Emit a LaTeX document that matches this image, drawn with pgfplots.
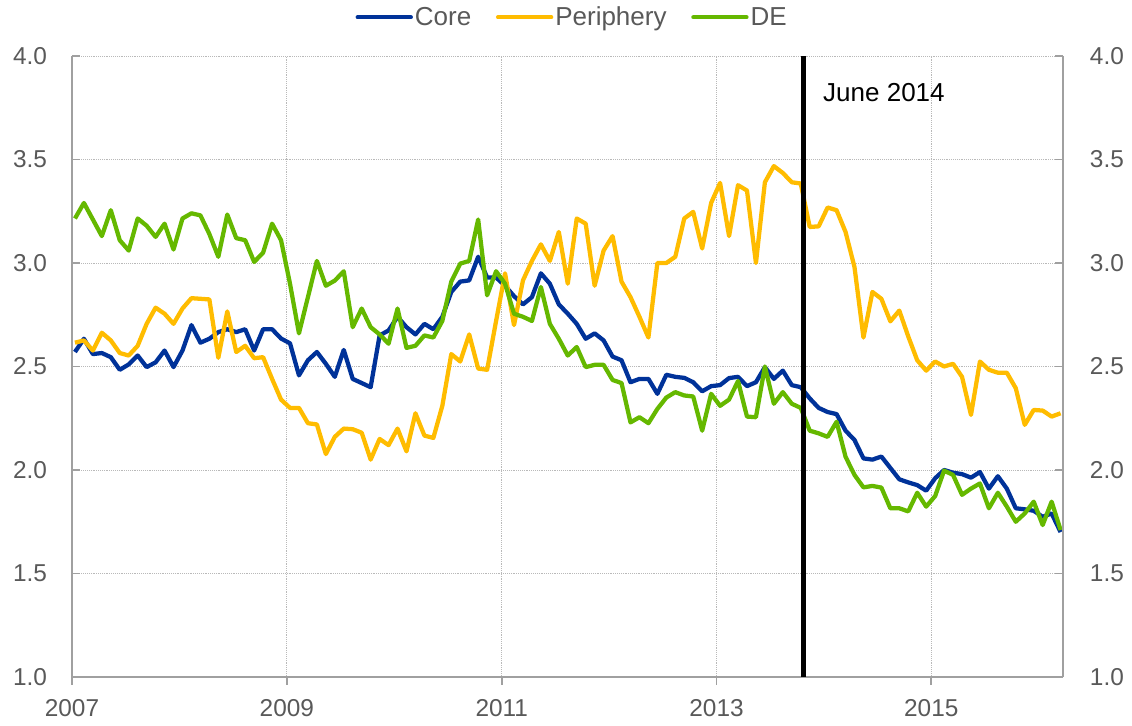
\documentclass[border=0pt]{standalone}
\usepackage{fontspec}
\setmainfont{Liberation Sans}
\usepackage{pgfplots}
\usepackage{pgfplotstable}
\pgfplotsset{compat=1.18}
\definecolor{coreblue}{HTML}{003299}
\definecolor{periyel}{HTML}{FFBC00}
\definecolor{degreen}{HTML}{65B800}
\definecolor{txtgray}{HTML}{595959}
\definecolor{axgray}{HTML}{A0A0A0}

\pgfplotstableread{
i core peri de
0 2.570 2.615 3.215
1 2.634 2.626 3.290
2 2.560 2.577 3.210
3 2.565 2.663 3.130
4 2.545 2.626 3.255
5 2.484 2.565 3.110
6 2.510 2.553 3.060
7 2.553 2.600 3.215
8 2.497 2.706 3.180
9 2.520 2.784 3.126
10 2.577 2.755 3.190
11 2.497 2.706 3.065
12 2.577 2.780 3.215
13 2.700 2.830 3.240
14 2.615 2.827 3.230
15 2.634 2.824 3.140
16 2.666 2.542 3.030
17 2.680 2.766 3.234
18 2.666 2.570 3.120
19 2.680 2.600 3.110
20 2.577 2.540 3.005
21 2.680 2.545 3.050
22 2.680 2.440 3.190
23 2.635 2.340 3.110
24 2.612 2.300 2.900
25 2.457 2.300 2.660
26 2.530 2.226 2.835
27 2.570 2.220 3.010
28 2.513 2.077 2.890
29 2.450 2.160 2.915
30 2.580 2.200 2.960
31 2.440 2.197 2.690
32 2.420 2.180 2.780
33 2.400 2.050 2.690
34 2.650 2.150 2.655
35 2.674 2.120 2.610
36 2.740 2.200 2.780
37 2.690 2.090 2.590
38 2.655 2.274 2.600
39 2.706 2.166 2.650
40 2.680 2.155 2.640
41 2.740 2.310 2.720
42 2.860 2.560 2.910
43 2.910 2.524 2.997
44 2.916 2.655 3.010
45 3.030 2.490 3.210
46 2.930 2.484 2.844
47 2.930 2.720 2.960
48 2.890 2.950 2.900
49 2.840 2.700 2.755
50 2.800 2.916 2.740
51 2.835 3.010 2.720
52 2.950 3.090 2.884
53 2.900 3.010 2.706
54 2.800 3.150 2.634
55 2.755 2.900 2.553
56 2.706 3.215 2.594
57 2.634 3.190 2.497
58 2.660 2.890 2.508
59 2.626 3.060 2.508
60 2.548 3.130 2.435
61 2.530 2.910 2.420
62 2.424 2.835 2.230
63 2.440 2.740 2.255
64 2.440 2.640 2.226
65 2.368 3.000 2.295
66 2.460 3.000 2.350
67 2.450 3.030 2.376
68 2.445 3.215 2.360
69 2.424 3.247 2.355
70 2.380 3.070 2.190
71 2.405 3.290 2.368
72 2.410 3.387 2.310
73 2.444 3.130 2.340
74 2.450 3.376 2.430
75 2.405 3.350 2.258
76 2.424 3.000 2.255
77 2.497 3.390 2.500
78 2.440 3.468 2.320
79 2.480 3.435 2.376
80 2.410 3.390 2.320
81 2.400 3.384 2.300
82 2.346 3.174 2.190
83 2.300 3.177 2.177
84 2.280 3.268 2.160
85 2.270 3.255 2.233
86 2.190 3.150 2.064
87 2.145 2.980 1.976
88 2.056 2.640 1.916
89 2.050 2.860 1.923
90 2.065 2.827 1.915
91 2.010 2.718 1.815
92 1.955 2.770 1.815
93 1.940 2.645 1.800
94 1.927 2.530 1.890
95 1.900 2.480 1.823
96 1.960 2.524 1.874
97 2.000 2.500 1.997
98 1.987 2.513 1.976
99 1.980 2.450 1.880
100 1.963 2.266 1.910
101 1.990 2.524 1.935
102 1.910 2.484 1.815
103 1.970 2.470 1.890
104 1.910 2.470 1.823
105 1.815 2.395 1.750
106 1.810 2.218 1.790
107 1.803 2.290 1.847
108 1.774 2.287 1.734
109 1.790 2.258 1.847
110 1.700 2.274 1.710
}\datatable

\begin{document}
\begin{tikzpicture}
\begin{axis}[
  name=ax,
  scale only axis,
  width=743.25pt, height=465.75pt,
  xmin=-0.33, xmax=110.27,
  ymin=1, ymax=4,
  axis x line*=bottom, axis y line*=left,
  xtick={-0.33,23.65,47.63,71.6,95.57},
  xticklabels={2007,2009,2011,2013,2015},
  ytick={1,1.5,2,2.5,3,3.5,4},
  /pgf/number format/assume math mode=true,
  y tick label style={/pgf/number format/fixed, /pgf/number format/fixed zerofill, /pgf/number format/precision=1, xshift=-18.5pt},
  tick label style={font=\fontsize{18.3}{21}\selectfont, text=txtgray, inner sep=0pt},
  x tick label style={yshift=-17pt},
  tick align=inside,
  major tick length=6pt,
  major tick style={axgray, line width=1.2pt},
  major x tick style={yshift=-6pt},
  grid=major,
  grid style={densely dotted, gray!55, line width=0.6pt},
  x axis line style={axgray, line width=2.2pt},
  y axis line style={axgray, line width=1.5pt},
  legend style={at={(0.5,1)}, anchor=center, xshift=3.5pt, yshift=29pt, draw=none, fill=none,
    legend columns=3, font=\fontsize{19.5}{22}\selectfont, text=txtgray,
    nodes={inner sep=1.5pt},
    /tikz/every even column/.append style={column sep=17pt},
    inner sep=0pt},
  legend image code/.code={\draw[#1, line width=3pt, line cap=round] (0pt,0pt) -- (40pt,0pt);},
  legend cell align=left,
]
\addplot[coreblue, line width=3.2pt, line join=round] table[x=i, y=core] {\datatable};
\addlegendentry{Core}
\addplot[periyel, line width=3.2pt, line join=round] table[x=i, y=peri] {\datatable};
\addlegendentry{Periphery}
\addplot[degreen, line width=3.2pt, line join=round] table[x=i, y=de] {\datatable};
\addlegendentry{DE}
\addplot[black, line width=3.75pt, forget plot] coordinates {(81.36,1) (81.36,4)};
\node[anchor=west, inner sep=0pt, font=\fontsize{19.5}{22}\selectfont, text=black] at (axis cs:83.48,3.821) {June 2014};
\end{axis}
\begin{axis}[
  scale only axis,
  width=743.25pt, height=465.75pt,
  xmin=-0.33, xmax=110.27,
  ymin=1, ymax=4,
  axis x line=none, axis y line*=right,
  ytick={1,1.5,2,2.5,3,3.5,4},
  /pgf/number format/assume math mode=true,
  y tick label style={/pgf/number format/fixed, /pgf/number format/fixed zerofill, /pgf/number format/precision=1, xshift=20pt},
  tick label style={font=\fontsize{18.3}{21}\selectfont, text=txtgray, inner sep=0pt},
  tick align=inside,
  major tick length=6pt,
  major tick style={axgray, line width=1.2pt},
  y axis line style={axgray, line width=1.5pt},
]
\addplot[draw=none, forget plot] coordinates {(0,1) (1,1)};
\end{axis}
\pgfresetboundingbox
\path[use as bounding box] ([xshift=-54pt, yshift=-36.75pt]ax.south west) rectangle ([xshift=51.75pt, yshift=42pt]ax.north east);
\end{tikzpicture}
\end{document}
